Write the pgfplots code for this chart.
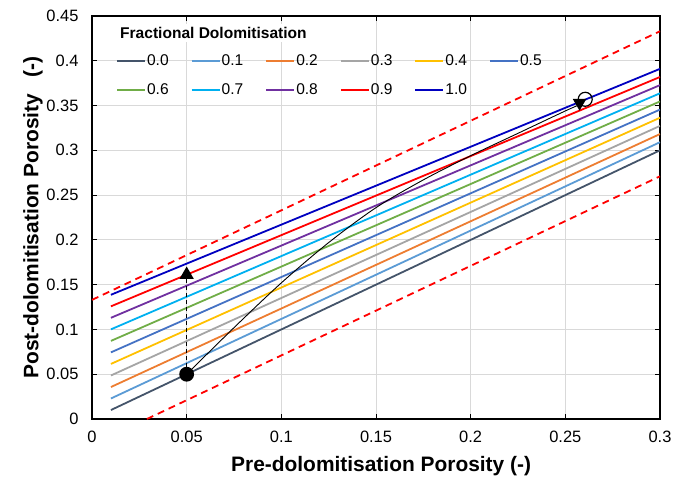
\documentclass[border=0pt]{standalone}
\usepackage{fontspec}
\setmainfont{Liberation Sans}
\usepackage{pgfplots}
\pgfplotsset{compat=1.18}

\definecolor{dolA}{HTML}{44546A}
\definecolor{dolB}{HTML}{5B9BD5}
\definecolor{dolC}{HTML}{ED7D31}
\definecolor{dolD}{HTML}{A5A5A5}
\definecolor{dolE}{HTML}{FFC000}
\definecolor{dolF}{HTML}{4472C4}
\definecolor{dolG}{HTML}{70AD47}
\definecolor{dolH}{HTML}{00B0F0}
\definecolor{dolI}{HTML}{7030A0}
\definecolor{dolJ}{HTML}{FF0000}
\definecolor{dolK}{HTML}{0000C0}

\begin{document}
\begin{tikzpicture}
\useasboundingbox (-92bp,-64bp) rectangle (596bp,419bp);
\begin{axis}[
    at={(0,0)}, anchor=south west,
    scale only axis,
    width=568bp, height=403bp,
    xmin=0, xmax=0.3, ymin=0, ymax=0.45,
    xtick={0,0.05,0.1,0.15,0.2,0.25,0.3},
    ytick={0,0.05,0.1,0.15,0.2,0.25,0.3,0.35,0.4,0.45},
    grid=major,
    grid style={draw=black!15, line width=0.8bp},
    axis line style={line width=1.6bp, black},
    tick style={black, line width=1bp},
    tick align=inside, major tick length=5bp,
    /pgf/number format/fixed, /pgf/number format/precision=2,
    /pgf/number format/assume math mode=true,
    tick label style={font=\fontsize{16.5}{19}\selectfont},
    xticklabel style={yshift=-9bp},
    yticklabel style={xshift=-10bp},
    xlabel={Pre-dolomitisation Porosity (-)},
    ylabel={Post-dolomitisation Porosity\hspace{0.8em}(-)},
    label style={font=\bfseries\fontsize{21}{24}\selectfont},
    xlabel style={at={([yshift=-47bp]axis description cs:0.509,0)}, anchor=center},
    ylabel style={at={([xshift=-59bp]axis description cs:0,0.5)}, anchor=center, rotate=0},
    legend columns=6,
    legend cell align=left,
    legend image code/.code={\draw[#1, line width=2bp] (0bp,0bp) -- (28bp,0bp);},
    legend style={at={(0.042,0.906)}, anchor=north west, draw=none, fill=none,
                  inner sep=0pt, row sep=14bp,
                  font=\fontsize{15.6}{18}\selectfont,
                  nodes={inner sep=1bp},
                  /tikz/every even column/.append style={column sep=21bp}},
    every axis plot/.append style={line width=1.8bp},
]
\addplot[color=dolA] coordinates {(0.01,0.0100) (0.3,0.3000)};
\addlegendentry{0.0}
\addplot[color=dolB] coordinates {(0.01,0.0229) (0.3,0.3091)};
\addlegendentry{0.1}
\addplot[color=dolC] coordinates {(0.01,0.0357) (0.3,0.3182)};
\addlegendentry{0.2}
\addplot[color=dolD] coordinates {(0.01,0.0486) (0.3,0.3273)};
\addlegendentry{0.3}
\addplot[color=dolE] coordinates {(0.01,0.0615) (0.3,0.3364)};
\addlegendentry{0.4}
\addplot[color=dolF] coordinates {(0.01,0.0744) (0.3,0.3455)};
\addlegendentry{0.5}
\addplot[color=dolG] coordinates {(0.01,0.0872) (0.3,0.3546)};
\addlegendentry{0.6}
\addplot[color=dolH] coordinates {(0.01,0.1001) (0.3,0.3637)};
\addlegendentry{0.7}
\addplot[color=dolI] coordinates {(0.01,0.1130) (0.3,0.3728)};
\addlegendentry{0.8}
\addplot[color=dolJ] coordinates {(0.01,0.1258) (0.3,0.3819)};
\addlegendentry{0.9}
\addplot[color=dolK] coordinates {(0.01,0.1387) (0.3,0.3910)};
\addlegendentry{1.0}

% bounds
\addplot[color=dolJ, line width=1.8bp, dash pattern=on 7bp off 5bp, forget plot] coordinates {(0,0.133) (0.3,0.433)};
\addplot[color=dolJ, line width=1.8bp, dash pattern=on 7bp off 5bp, forget plot] coordinates {(0.029,0) (0.3,0.271)};

% vertical path
\addplot[black, line width=1.2bp, dash pattern=on 4bp off 3bp, forget plot] coordinates {(0.05,0.05) (0.05,0.156)};
\addplot[black, only marks, mark=triangle*, mark size=6.5bp, forget plot] coordinates {(0.05,0.161)};

% curved path
\addplot[black, line width=0.9bp, smooth, forget plot] coordinates {
    (0.05,0.05) (0.075,0.102) (0.1,0.152) (0.125,0.197) (0.15,0.236)
    (0.175,0.267) (0.2,0.294) (0.225,0.319) (0.25,0.344) (0.2565,0.350)
};
\addplot[black, only marks, mark=triangle*, mark size=6bp, mark options={rotate=180}, forget plot]
    coordinates {(0.2575,0.353)};
\addplot[black, only marks, mark=*, mark size=6.5bp, forget plot] coordinates {(0.05,0.05)};
\addplot[black, only marks, mark=o, mark size=7bp, mark options={line width=1.2bp, fill=none}, forget plot]
    coordinates {(0.2605,0.357)};

\node[anchor=base west, font=\bfseries\fontsize{15.6}{18}\selectfont, inner sep=3bp, fill=white]
    at (rel axis cs:0.044,0.944) {Fractional Dolomitisation};
\end{axis}
\end{tikzpicture}
\end{document}
